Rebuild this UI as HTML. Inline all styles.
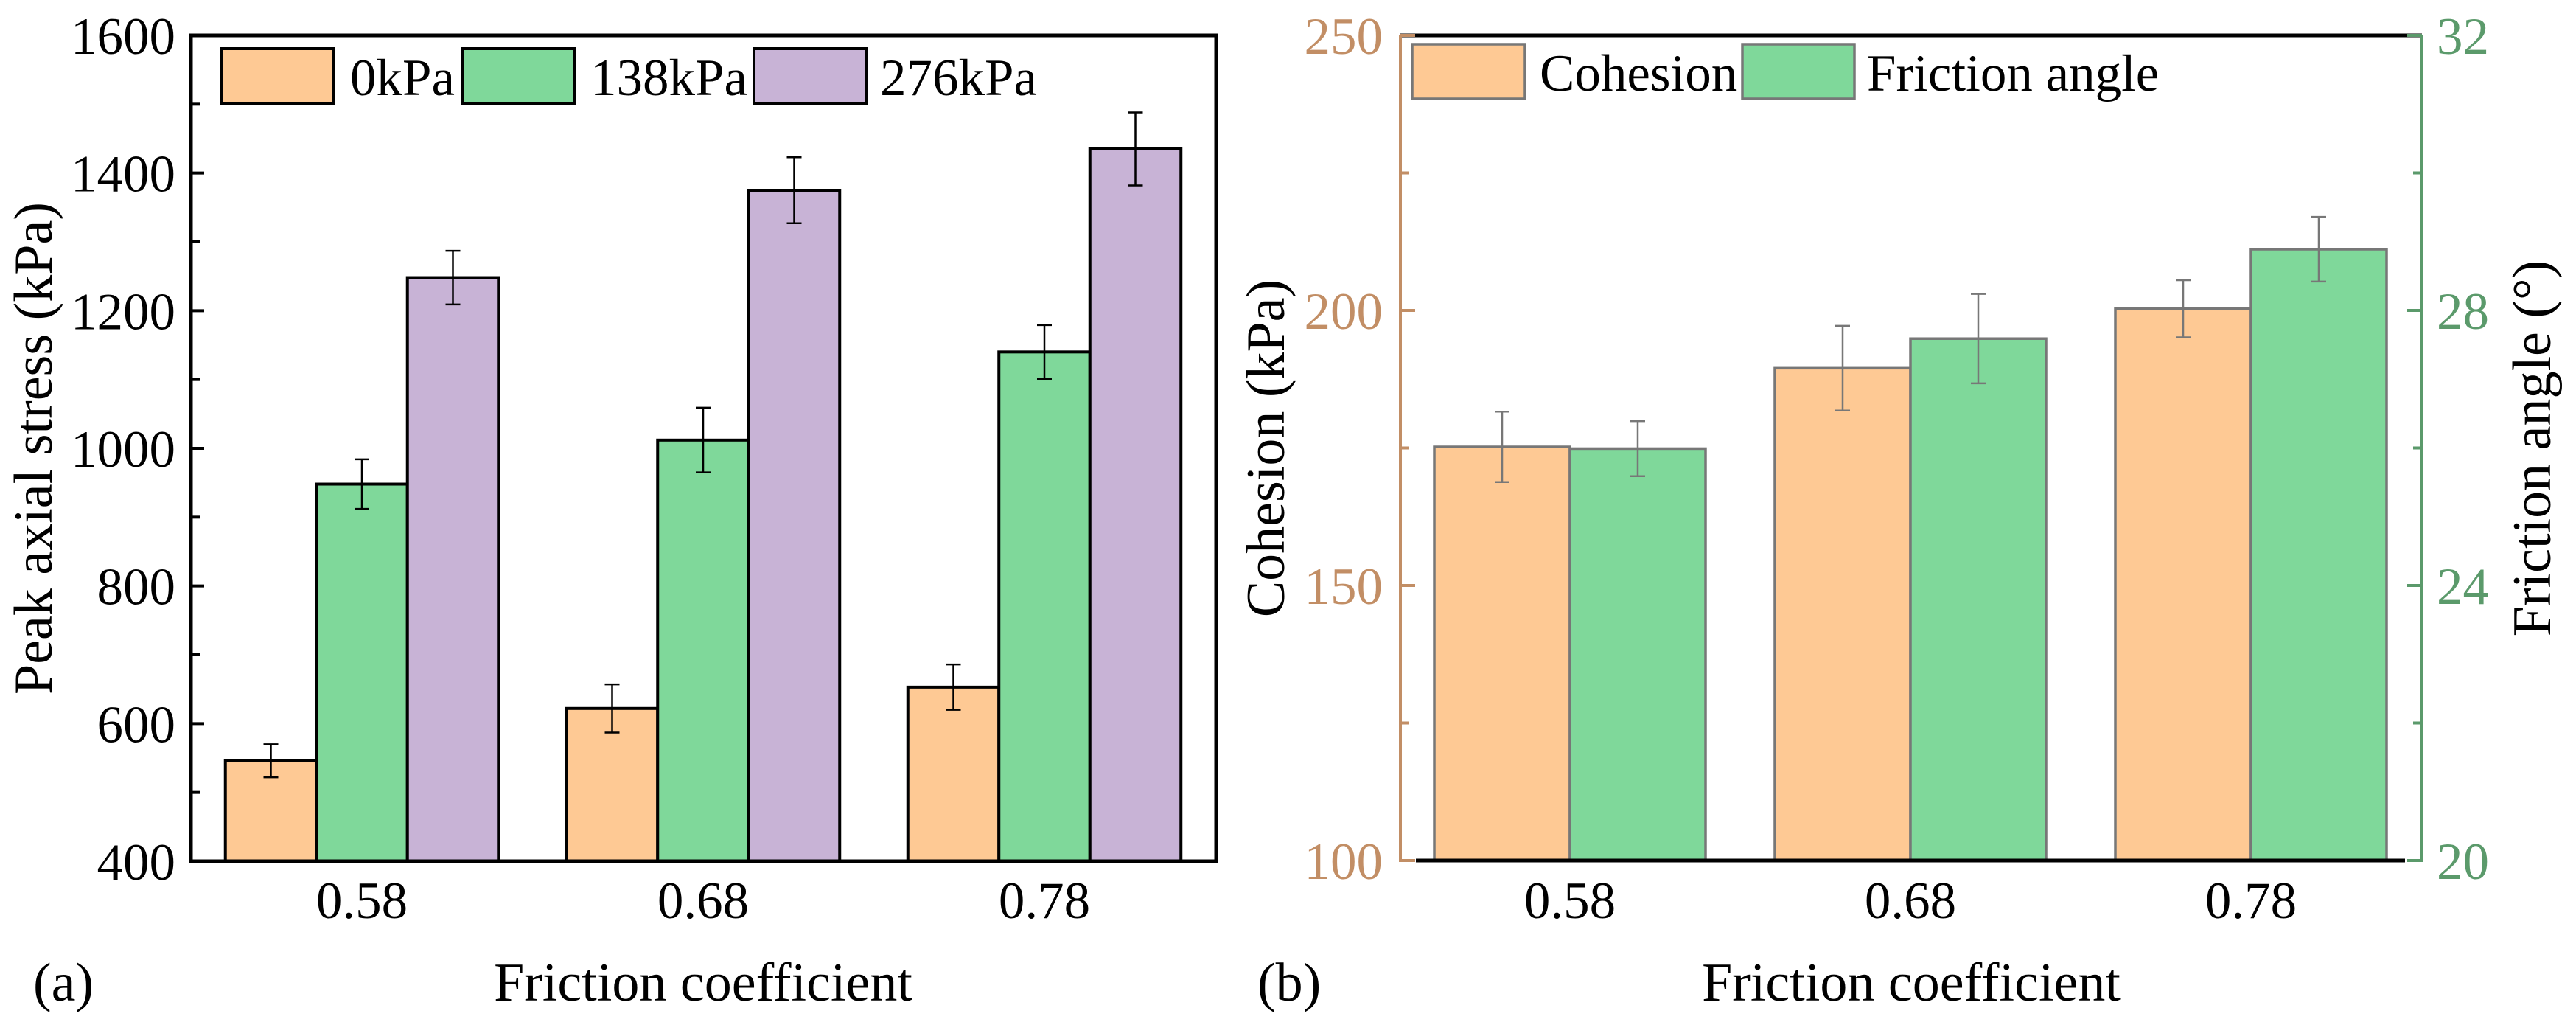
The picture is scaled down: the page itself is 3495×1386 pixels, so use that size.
<!DOCTYPE html>
<html><head><meta charset="utf-8"><style>
html,body{margin:0;padding:0;background:#fff;}
svg{display:block;font-family:"Liberation Serif",serif;}
</style></head><body>
<svg id="chart" width="3495" height="1386" viewBox="0 0 3495 1386" xmlns="http://www.w3.org/2000/svg"></svg>
<script>
// ---- Panel (a) data ----
const catsA = ["0.58","0.68","0.78"];
const seriesNamesA = ["0kPa","138kPa","276kPa"];
const vals0 = [546, 622, 653];
const vals138 = [948, 1012, 1140];
const vals276 = [1248, 1375, 1435];
const err0 = [24, 35, 33];
const err138 = [36, 47, 39];
const err276 = [39, 48, 53];
const ticksA = [400,600,800,1000,1200,1400,1600];
// ---- Panel (b) data ----
const catsB = ["0.58","0.68","0.78"];
const cohesion = [175.2, 189.5, 200.3];
const cohesionErr = [6.4, 7.7, 5.2];
const friction = [25.99, 27.59, 28.89];
const frictionErr = [0.4, 0.65, 0.47];
const ticksBL = [100,150,200,250];
const ticksBR = [20,24,28,32];

const NS="http://www.w3.org/2000/svg";
const svg=document.getElementById('chart');
const TF=71;
function mk(tag,attrs,parent,text){const e=document.createElementNS(NS,tag);for(const k in attrs)e.setAttribute(k,attrs[k]);if(text!==undefined)e.textContent=text;(parent||svg).appendChild(e);return e;}

// ===== Panel A =====
const A={x0:259,x1:1650,y0:48,y1:1168,min:400,max:1600};
const yA=v=>A.y1-(v-A.min)/(A.max-A.min)*(A.y1-A.y0);
const xA=i=>491+i*463;
const gA=mk('g',{});


const colorsA=["#FEC994","#7FD89A","#C8B3D6"];
const valsA=[vals0,vals138,vals276], errsA=[err0,err138,err276];
const bwA=123.5;
for(let s=0;s<3;s++){for(let i=0;i<catsA.length;i++){
  const x=xA(i)+(s-1.5)*bwA, y=yA(valsA[s][i]);
  const r=mk('rect',{x:x,y:y,width:bwA,height:A.y1-y,fill:colorsA[s],stroke:"#000","stroke-width":4},gA);
  
  
  const cx=xA(i)+(s-1)*bwA, hi=yA(valsA[s][i]+errsA[s][i]), lo=yA(valsA[s][i]-errsA[s][i]);
  const eb=mk('path',{d:`M${cx},${hi}V${lo}M${cx-10},${hi}H${cx+10}M${cx-10},${lo}H${cx+10}`,stroke:"#000","stroke-width":2.5,fill:"none"},gA);
  
  
}}
const frA=mk('rect',{x:A.x0,y:A.y0,width:A.x1-A.x0,height:A.y1-A.y0,fill:"none",stroke:"#000","stroke-width":5},gA);


for(let k=0;k<ticksA.length;k++){
  const v=ticksA[k], y=yA(v);
  mk('line',{x1:A.x0,x2:A.x0+18,y1:y,y2:y,stroke:"#000","stroke-width":4},gA);
  const t=mk('text',{x:238,y:y+25,"font-size":TF,"text-anchor":"end"},gA,String(v));
  
  
  if(k<ticksA.length-1){const ym=yA(v+100);mk('line',{x1:A.x0,x2:A.x0+12,y1:ym,y2:ym,stroke:"#000","stroke-width":4},gA);}
}
for(let i=0;i<catsA.length;i++){
  const t=mk('text',{x:xA(i),y:1245,"font-size":TF,"text-anchor":"middle"},gA,catsA[i]);
  
  
}
let t=mk('text',{x:954,y:1357,"font-size":74,"text-anchor":"middle"},gA,"Friction coefficient");


t=mk('text',{x:0,y:0,"font-size":74,"text-anchor":"middle",transform:"translate(70,608) rotate(-90)"},gA,"Peak axial stress (kPa)");


t=mk('text',{x:45,y:1357,"font-size":74},gA,"(a)");


const legA=[[300,475],[628,801],[1023,1194]];
for(let s=0;s<3;s++){
  const r=mk('rect',{x:legA[s][0],y:66,width:152,height:75,fill:colorsA[s],stroke:"#000","stroke-width":4},gA);
  
  
  const lt=mk('text',{x:legA[s][1],y:129,"font-size":TF},gA,seriesNamesA[s]);
  
  
}

// ===== Panel B =====
const B={x0:1900,x1:3286,y0:48,y1:1167};
const yBL=v=>B.y1-(v-100)/150*(B.y1-B.y0);
const yBR=v=>B.y1-(v-20)/12*(B.y1-B.y0);
const xB=i=>2130+i*462;
const bwB=184;
const tan="#C28E65", grn="#5B9A6B";
const gB=mk('g',{});


for(let i=0;i<catsB.length;i++){
  let y=yBL(cohesion[i]);
  let r=mk('rect',{x:xB(i)-bwB,y:y,width:bwB,height:B.y1-y,fill:"#FEC994",stroke:"#777","stroke-width":3.5},gB);
  
  
  y=yBR(friction[i]);
  r=mk('rect',{x:xB(i),y:y,width:bwB,height:B.y1-y,fill:"#7FD89A",stroke:"#777","stroke-width":3.5},gB);
  
  
}
for(let i=0;i<catsB.length;i++){
  let cx=xB(i)-bwB/2, hi=yBL(cohesion[i]+cohesionErr[i]), lo=yBL(cohesion[i]-cohesionErr[i]);
  let e=mk('path',{d:`M${cx},${hi}V${lo}M${cx-10},${hi}H${cx+10}M${cx-10},${lo}H${cx+10}`,stroke:"#777","stroke-width":2.5,fill:"none"},gB);
  
  
  cx=xB(i)+bwB/2; hi=yBR(friction[i]+frictionErr[i]); lo=yBR(friction[i]-frictionErr[i]);
  e=mk('path',{d:`M${cx},${hi}V${lo}M${cx-10},${hi}H${cx+10}M${cx-10},${lo}H${cx+10}`,stroke:"#777","stroke-width":2.5,fill:"none"},gB);
  
  
}
mk('line',{x1:B.x0,x2:B.x1,y1:B.y0,y2:B.y0,stroke:"#000","stroke-width":5},gB);
mk('line',{x1:1921,x2:3263,y1:B.y1,y2:B.y1,stroke:"#000","stroke-width":5},gB);
let ax=mk('line',{x1:B.x0,x2:B.x0,y1:B.y0,y2:B.y1+2,stroke:tan,"stroke-width":4},gB);


ax=mk('line',{x1:B.x1,x2:B.x1,y1:B.y0,y2:B.y1+2,stroke:grn,"stroke-width":4},gB);


for(let k=0;k<ticksBL.length;k++){
  const y=yBL(ticksBL[k]);
  mk('line',{x1:B.x0,x2:B.x0+20,y1:y,y2:y,stroke:tan,"stroke-width":4},gB);
  const tl=mk('text',{x:1876,y:y+25,"font-size":TF,"text-anchor":"end",fill:tan},gB,String(ticksBL[k]));
  
  
  if(k<ticksBL.length-1){const ym=yBL(ticksBL[k]+25);mk('line',{x1:B.x0,x2:B.x0+12,y1:ym,y2:ym,stroke:tan,"stroke-width":4},gB);}
}
for(let k=0;k<ticksBR.length;k++){
  const y=yBR(ticksBR[k]);
  mk('line',{x1:B.x1-20,x2:B.x1,y1:y,y2:y,stroke:grn,"stroke-width":4},gB);
  const tl=mk('text',{x:3306,y:y+25,"font-size":TF,fill:grn},gB,String(ticksBR[k]));
  
  
  if(k<ticksBR.length-1){const ym=yBR(ticksBR[k]+2);mk('line',{x1:B.x1-12,x2:B.x1,y1:ym,y2:ym,stroke:grn,"stroke-width":4},gB);}
}
for(let i=0;i<catsB.length;i++){
  const tl=mk('text',{x:xB(i),y:1245,"font-size":TF,"text-anchor":"middle"},gB,catsB[i]);
  
  
}
t=mk('text',{x:2593,y:1357,"font-size":74,"text-anchor":"middle"},gB,"Friction coefficient");


t=mk('text',{x:0,y:0,"font-size":74,"text-anchor":"middle",transform:"translate(1742,608) rotate(-90)"},gB,"Cohesion (kPa)");


t=mk('text',{x:0,y:0,"font-size":74,"text-anchor":"middle",transform:"translate(3460,608) rotate(-90)"},gB,"Friction angle (°)");


t=mk('text',{x:1706,y:1357,"font-size":74},gB,"(b)");


let lr=mk('rect',{x:1916,y:60,width:153,height:74,fill:"#FEC994",stroke:"#777","stroke-width":3.5},gB);


let ltx=mk('text',{x:2089,y:123,"font-size":TF},gB,"Cohesion");


lr=mk('rect',{x:2364,y:60,width:152,height:74,fill:"#7FD89A",stroke:"#777","stroke-width":3.5},gB);


ltx=mk('text',{x:2533,y:123,"font-size":TF},gB,"Friction angle");


</script>
</body></html>
